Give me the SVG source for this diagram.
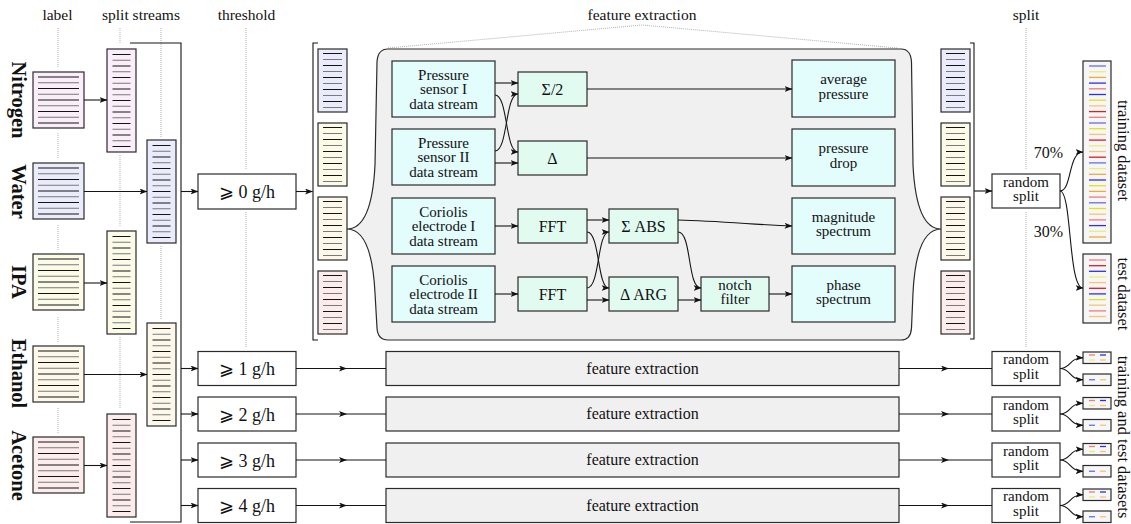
<svg xmlns="http://www.w3.org/2000/svg" width="1131" height="524" viewBox="0 0 1131 524">
<style>
text{font-family:"Liberation Serif","DejaVu Serif","DejaVu Sans",serif;fill:#111;text-anchor:middle}
.h{font-size:15.5px}
.n{font-size:16px}
.m{font-size:15px}
.th{font-size:18px}
.lab{font-size:20.5px;font-weight:bold}
.rl{font-size:16.5px}
.box{stroke:#2a2a2a;stroke-width:1.2}
.cy{fill:#e3fcfc}
.gr{fill:#e2fbf1}
.wh{fill:#fff}
.fe{fill:#f0f0f0}
.ds{fill:#f6f6f6}
.mag{fill:#fbeefb}
.lav{fill:#eaecfb}
.yel{fill:#fbfbe8}
.crm{fill:#fdf8ea}
.pnk{fill:#fcecec}
.con path{fill:none;stroke:#151515;stroke-width:1.1}
.ae{marker-end:url(#ah)}
.am{marker-mid:url(#am)}
.dot{fill:none;stroke:#a8a8a8;stroke-width:0.9;stroke-dasharray:1 1}
.k{stroke:#151515;stroke-width:1.2;fill:none}
.g{stroke:#7a7a7a;stroke-width:1.2;fill:none}
.B1{stroke:#6a6af5}.B2{stroke:#2e2ef2}.R1{stroke:#f27a7a}.R2{stroke:#e01c1c}
.Y1{stroke:#ebeb7a}.Y2{stroke:#e2e21a}.O1{stroke:#f7c376}.O2{stroke:#f3aa35}
.cl path{stroke-width:1.3;fill:none}
</style>
<defs>
<marker id="ah" viewBox="0 0 8 6" refX="7.5" refY="3" markerWidth="8" markerHeight="6" markerUnits="userSpaceOnUse" orient="auto"><path d="M0,0 L8,3 L0,6 L2,3 Z" fill="#111"/></marker>
<marker id="am" viewBox="0 0 8 6" refX="4" refY="3" markerWidth="8" markerHeight="6" markerUnits="userSpaceOnUse" orient="auto"><path d="M0,0 L8,3 L0,6 L2,3 Z" fill="#111"/></marker>
<g id="L9">
<path class="k" d="M5,5H46M5,16.5H46M5,28H46M5,39.5H46M5,51H46"/>
<path class="g" d="M5,10.75H46M5,22.25H46M5,33.75H46M5,45.25H46"/>
</g>
<g id="L17">
<path class="k" d="M5.5,5.5H23.5M5.5,17H23.5M5.5,28.5H23.5M5.5,40H23.5M5.5,51.5H23.5M5.5,63H23.5M5.5,74.5H23.5M5.5,86H23.5M5.5,97.5H23.5"/>
<path class="g" d="M5.5,11.25H23.5M5.5,22.75H23.5M5.5,34.25H23.5M5.5,45.75H23.5M5.5,57.25H23.5M5.5,68.75H23.5M5.5,80.25H23.5M5.5,91.75H23.5"/>
</g>
<g id="L10">
<path class="k" d="M5,4.5H24M5,16.5H24M5,28.5H24M5,40.5H24M5,52.5H24"/>
<path class="g" d="M5,10.5H24M5,22.5H24M5,34.5H24M5,46.5H24M5,58.5H24"/>
</g>
<g id="pair" class="cl">
<rect class="box ds" x="0" y="-16.5" width="28" height="11.5"/>
<rect class="box ds" x="0" y="5.5" width="28" height="11.5"/>
<path class="R1" d="M6,-13.5H12"/><path class="B2" d="M17,-13.5H23"/>
<path class="Y1" d="M6,-8.5H12"/><path class="O1" d="M17,-8.5H23"/>
<path class="B1" d="M6,11.25H12"/><path class="O1" d="M17,11.25H23"/>
</g>
</defs>

<!-- headers and guides -->
<g id="headers">
<text class="h" x="57.5" y="20">label</text>
<text class="h" x="141" y="20">split streams</text>
<text class="h" x="246.5" y="20">threshold</text>
<text class="h" x="642" y="20">feature extraction</text>
<text class="h" x="1026" y="20">split</text>
<path class="dot" d="M58,28V67M58,133V159M58,225V250M58,317V342M58,408V433"/>
<path class="dot" d="M120,28V44M120,155V227M120,337V408"/>
<path class="dot" d="M161,28V137M161,246V319"/>
<path class="dot" d="M246,28V170M246,212V348"/>
<path class="dot" d="M1026,28V170M1026,212V347"/>
<path class="dot" d="M388,48L642,25L897,48"/>
</g>

<!-- big feature extraction shape -->
<g id="fe-main">
<path class="box fe" d="M388,49 L901,49 C908,49 911,53 911.5,62 L913,165 C915,205 923,229 941,229 C923,229 915,253 913,293 L911.5,328 C911,336 908,340 901,340 L388,340 C381,340 377.5,336 377,328 L375,293 C373,253 365,229 347,229 C365,229 373,205 375,165 L377,62 C377.5,53 381,49 388,49 Z"/>
</g>

<!-- label column -->
<g id="lbl-nitrogen"><text class="lab" transform="translate(12,100) rotate(90)">Nitrogen</text><rect class="box mag" x="33" y="72" width="51" height="56"/><use href="#L9" x="33" y="72"/></g>
<g id="lbl-water"><text class="lab" transform="translate(12,191.5) rotate(90)">Water</text><rect class="box lav" x="33" y="163" width="51" height="56"/><use href="#L9" x="33" y="163"/></g>
<g id="lbl-ipa"><text class="lab" transform="translate(12,282) rotate(90)">IPA</text><rect class="box yel" x="33" y="254" width="51" height="56"/><use href="#L9" x="33" y="254"/></g>
<g id="lbl-ethanol"><text class="lab" transform="translate(12,373.5) rotate(90)">Ethanol</text><rect class="box crm" x="33" y="346" width="51" height="56"/><use href="#L9" x="33" y="346"/></g>
<g id="lbl-acetone"><text class="lab" transform="translate(12,465.5) rotate(90)">Acetone</text><rect class="box pnk" x="33" y="437" width="51" height="56"/><use href="#L9" x="33" y="437"/></g>

<!-- split streams -->
<g id="split-nitrogen"><rect class="box mag" x="107" y="49" width="29" height="103"/><use href="#L17" x="107" y="49"/></g>
<g id="split-water"><rect class="box lav" x="147" y="140" width="29" height="103"/><use href="#L17" x="147" y="140"/></g>
<g id="split-ipa"><rect class="box yel" x="107" y="231" width="29" height="103"/><use href="#L17" x="107" y="231"/></g>
<g id="split-ethanol"><rect class="box crm" x="147" y="323" width="29" height="103"/><use href="#L17" x="147" y="323"/></g>
<g id="split-acetone"><rect class="box pnk" x="107" y="414" width="29" height="103"/><use href="#L17" x="107" y="414"/></g>

<!-- thresholds -->
<g id="th0"><rect class="box wh" x="198" y="174" width="98" height="35"/><text class="th" x="247" y="198">⩾ 0 g/h</text></g>
<g id="th1"><rect class="box wh" x="198" y="351.5" width="98" height="34"/><text class="th" x="247" y="375">⩾ 1 g/h</text></g>
<g id="th2"><rect class="box wh" x="198" y="397" width="98" height="34"/><text class="th" x="247" y="420.5">⩾ 2 g/h</text></g>
<g id="th3"><rect class="box wh" x="198" y="443" width="98" height="34"/><text class="th" x="247" y="466.5">⩾ 3 g/h</text></g>
<g id="th4"><rect class="box wh" x="198" y="488.5" width="98" height="34"/><text class="th" x="247" y="512">⩾ 4 g/h</text></g>

<!-- feature column streams -->
<g id="fs-in-1"><rect class="box lav" x="318" y="49" width="29" height="63"/><use href="#L10" x="318" y="49"/></g>
<g id="fs-in-2"><rect class="box yel" x="318" y="123" width="29" height="63"/><use href="#L10" x="318" y="123"/></g>
<g id="fs-in-3"><rect class="box crm" x="318" y="197" width="29" height="63"/><use href="#L10" x="318" y="197"/></g>
<g id="fs-in-4"><rect class="box pnk" x="318" y="271" width="29" height="63"/><use href="#L10" x="318" y="271"/></g>
<g id="fs-out-1"><rect class="box lav" x="941" y="49" width="29" height="63"/><use href="#L10" x="941" y="49"/></g>
<g id="fs-out-2"><rect class="box yel" x="941" y="123" width="29" height="63"/><use href="#L10" x="941" y="123"/></g>
<g id="fs-out-3"><rect class="box crm" x="941" y="197" width="29" height="63"/><use href="#L10" x="941" y="197"/></g>
<g id="fs-out-4"><rect class="box pnk" x="941" y="271" width="29" height="63"/><use href="#L10" x="941" y="271"/></g>

<!-- inner feature nodes -->
<g id="ps1"><rect class="box cy" x="392" y="61" width="103" height="56"/><text class="m" x="443.5" y="79.5">Pressure</text><text class="m" x="443.5" y="94">sensor I</text><text class="m" x="443.5" y="108.5">data stream</text></g>
<g id="ps2"><rect class="box cy" x="392" y="129" width="103" height="56"/><text class="m" x="443.5" y="147.5">Pressure</text><text class="m" x="443.5" y="162">sensor II</text><text class="m" x="443.5" y="176.5">data stream</text></g>
<g id="ce1"><rect class="box cy" x="392" y="198" width="103" height="56"/><text class="m" x="443.5" y="216.5">Coriolis</text><text class="m" x="443.5" y="231">electrode I</text><text class="m" x="443.5" y="245.5">data stream</text></g>
<g id="ce2"><rect class="box cy" x="392" y="266" width="103" height="56"/><text class="m" x="443.5" y="284.5">Coriolis</text><text class="m" x="443.5" y="299">electrode II</text><text class="m" x="443.5" y="313.5">data stream</text></g>
<g id="sum2"><rect class="box gr" x="518" y="72" width="69" height="34"/><text class="n" x="552.5" y="94.5">Σ/2</text></g>
<g id="delta"><rect class="box gr" x="518" y="141" width="69" height="34"/><text class="n" x="552.5" y="163.5">Δ</text></g>
<g id="fft1"><rect class="box gr" x="518" y="209" width="69" height="34"/><text class="n" x="552.5" y="231.5">FFT</text></g>
<g id="fft2"><rect class="box gr" x="518" y="277" width="69" height="34"/><text class="n" x="552.5" y="299.5">FFT</text></g>
<g id="sumabs"><rect class="box gr" x="609" y="209" width="69" height="34"/><text class="n" x="643.5" y="231.5">Σ ABS</text></g>
<g id="darg"><rect class="box gr" x="609" y="277" width="69" height="34"/><text class="n" x="643.5" y="299.5">Δ ARG</text></g>
<g id="notch"><rect class="box gr" x="701" y="277" width="68" height="34"/><text class="m" x="735" y="289.5">notch</text><text class="m" x="735" y="304">filter</text></g>
<g id="avgp"><rect class="box cy" x="792" y="60" width="103" height="57"/><text class="m" x="843.5" y="84">average</text><text class="m" x="843.5" y="98.5">pressure</text></g>
<g id="pdrop"><rect class="box cy" x="792" y="129" width="103" height="57"/><text class="m" x="843.5" y="153">pressure</text><text class="m" x="843.5" y="167.5">drop</text></g>
<g id="magsp"><rect class="box cy" x="792" y="198" width="103" height="56"/><text class="m" x="843.5" y="221.5">magnitude</text><text class="m" x="843.5" y="236">spectrum</text></g>
<g id="phsp"><rect class="box cy" x="792" y="266" width="103" height="56"/><text class="m" x="843.5" y="289.5">phase</text><text class="m" x="843.5" y="304">spectrum</text></g>

<!-- collapsed feature extraction rows -->
<g id="fe1"><rect class="box fe" x="386" y="351.5" width="513" height="34"/><text class="n" x="642.5" y="373.5">feature extraction</text></g>
<g id="fe2"><rect class="box fe" x="386" y="397" width="513" height="34"/><text class="n" x="642.5" y="419">feature extraction</text></g>
<g id="fe3"><rect class="box fe" x="386" y="443" width="513" height="34"/><text class="n" x="642.5" y="465">feature extraction</text></g>
<g id="fe4"><rect class="box fe" x="386" y="488.5" width="513" height="34"/><text class="n" x="642.5" y="510.5">feature extraction</text></g>

<!-- random split -->
<g id="rs0"><rect class="box wh" x="992" y="174" width="68" height="34"/><text class="m" x="1026" y="186.5">random</text><text class="m" x="1026" y="201">split</text></g>
<g id="rs1"><rect class="box wh" x="992" y="351.5" width="68" height="34"/><text class="m" x="1026" y="364">random</text><text class="m" x="1026" y="378.5">split</text></g>
<g id="rs2"><rect class="box wh" x="992" y="397" width="68" height="34"/><text class="m" x="1026" y="409.5">random</text><text class="m" x="1026" y="424">split</text></g>
<g id="rs3"><rect class="box wh" x="992" y="443" width="68" height="34"/><text class="m" x="1026" y="455.5">random</text><text class="m" x="1026" y="470">split</text></g>
<g id="rs4"><rect class="box wh" x="992" y="488.5" width="68" height="34"/><text class="m" x="1026" y="501">random</text><text class="m" x="1026" y="515.5">split</text></g>

<!-- datasets -->
<g id="train" class="cl">
<rect class="box ds" x="1083" y="61" width="28" height="182"/>
<path class="B1" d="M1089,66H1106"/><path class="Y1" d="M1089,71.7H1106"/><path class="O2" d="M1089,77.4H1106"/><path class="B2" d="M1089,83.1H1106"/>
<path class="R1" d="M1089,88.8H1106"/><path class="B2" d="M1089,94.5H1106"/><path class="Y2" d="M1089,100.2H1106"/><path class="O1" d="M1089,105.9H1106"/>
<path class="R2" d="M1089,111.6H1106"/><path class="R1" d="M1089,117.3H1106"/><path class="B1" d="M1089,123H1106"/><path class="Y2" d="M1089,128.7H1106"/>
<path class="O1" d="M1089,134.4H1106"/><path class="R2" d="M1089,140.1H1106"/><path class="Y1" d="M1089,145.8H1106"/><path class="O1" d="M1089,151.5H1106"/>
<path class="R2" d="M1089,157.2H1106"/><path class="B1" d="M1089,162.9H1106"/><path class="Y1" d="M1089,168.6H1106"/><path class="O2" d="M1089,174.3H1106"/>
<path class="B2" d="M1089,180H1106"/><path class="Y2" d="M1089,185.7H1106"/><path class="O2" d="M1089,191.4H1106"/><path class="R1" d="M1089,197.1H1106"/>
<path class="B1" d="M1089,202.8H1106"/><path class="Y2" d="M1089,208.5H1106"/><path class="O1" d="M1089,214.2H1106"/><path class="R1" d="M1089,219.9H1106"/>
<path class="B2" d="M1089,225.6H1106"/><path class="Y1" d="M1089,231.3H1106"/><path class="O2" d="M1089,237H1106"/>
<text class="rl" transform="translate(1118,150.5) rotate(90)">training dataset</text>
</g>
<g id="test" class="cl">
<rect class="box ds" x="1083" y="254" width="28" height="69"/>
<path class="R1" d="M1089,260H1106"/><path class="R2" d="M1089,265.7H1106"/><path class="B2" d="M1089,271.3H1106"/><path class="Y1" d="M1089,277H1106"/>
<path class="O1" d="M1089,282.6H1106"/><path class="R2" d="M1089,288.3H1106"/><path class="B2" d="M1089,293.9H1106"/><path class="Y2" d="M1089,299.6H1106"/>
<path class="O1" d="M1089,305.2H1106"/><path class="R1" d="M1089,310.9H1106"/><path class="O1" d="M1089,316.5H1106"/>
<text class="rl" transform="translate(1118,294) rotate(90)">test dataset</text>
</g>
<g id="ds1"><use href="#pair" x="1083" y="368.5"/></g>
<g id="ds2"><use href="#pair" x="1083" y="414"/></g>
<g id="ds3"><use href="#pair" x="1083" y="460"/></g>
<g id="ds4"><use href="#pair" x="1083" y="505.5"/></g>
<text class="rl" transform="translate(1118,437) rotate(90)">training and test datasets</text>
<text class="n" x="1048.5" y="158">70%</text>
<text class="n" x="1048.5" y="237">30%</text>

<!-- connectors -->
<g id="connectors" class="con">
<path class="ae" d="M84,100H107"/>
<path class="ae" d="M84,191.5H147"/>
<path class="ae" d="M84,283H107"/>
<path class="ae" d="M84,374.5H147"/>
<path class="ae" d="M84,465.5H107"/>
<path d="M130,43H181V522H130"/>
<path class="ae" d="M181,191.5H198"/>
<path class="ae" d="M181,368.5H198"/>
<path class="ae" d="M181,414H198"/>
<path class="ae" d="M181,460H198"/>
<path class="ae" d="M181,505.5H198"/>
<path class="ae" d="M296,191.5H312.5"/>
<path d="M318,43H313V340H318"/>
<path d="M970,43H974V339H970"/>
<path class="ae" d="M974,191H992"/>
<path class="am" d="M296,368.5H343H386"/>
<path class="am" d="M296,414H343H386"/>
<path class="am" d="M296,460H343H386"/>
<path class="am" d="M296,505.5H343H386"/>
<path class="am" d="M899,368.5H945H992"/>
<path class="am" d="M899,414H945H992"/>
<path class="am" d="M899,460H945H992"/>
<path class="am" d="M899,505.5H945H992"/>
<path class="ae" d="M495,83H518"/>
<path class="ae" d="M495,95C508,95 505,152 518,152"/>
<path class="ae" d="M495,151C508,151 505,94 518,94"/>
<path class="ae" d="M495,163H518"/>
<path class="ae" d="M587,89H792"/>
<path class="ae" d="M587,158H792"/>
<path class="ae" d="M495,226H518"/>
<path class="ae" d="M495,294H518"/>
<path class="ae" d="M587,220H609"/>
<path class="ae" d="M587,232C600,232 597,288 609,288"/>
<path class="ae" d="M587,288C600,288 597,232 609,232"/>
<path class="ae" d="M587,300H609"/>
<path class="ae" d="M678,220C720,221 760,225 792,226"/>
<path class="ae" d="M678,232C692,232 687,288 701,288"/>
<path class="ae" d="M678,300H701"/>
<path class="ae" d="M769,294H792"/>
<path class="ae" d="M1060,191C1072,191 1068,152 1083,152"/>
<path class="ae" d="M1060,191C1072,191 1068,288 1083,288"/>
<path class="ae" d="M1060,368.5C1071,368.5 1069,357.75 1083,357.75"/>
<path class="ae" d="M1060,368.5C1071,368.5 1069,379.75 1083,379.75"/>
<path class="ae" d="M1060,414C1071,414 1069,403.25 1083,403.25"/>
<path class="ae" d="M1060,414C1071,414 1069,425.25 1083,425.25"/>
<path class="ae" d="M1060,460C1071,460 1069,449.25 1083,449.25"/>
<path class="ae" d="M1060,460C1071,460 1069,471.25 1083,471.25"/>
<path class="ae" d="M1060,505.5C1071,505.5 1069,494.75 1083,494.75"/>
<path class="ae" d="M1060,505.5C1071,505.5 1069,516.75 1083,516.75"/>
</g>
</svg>
